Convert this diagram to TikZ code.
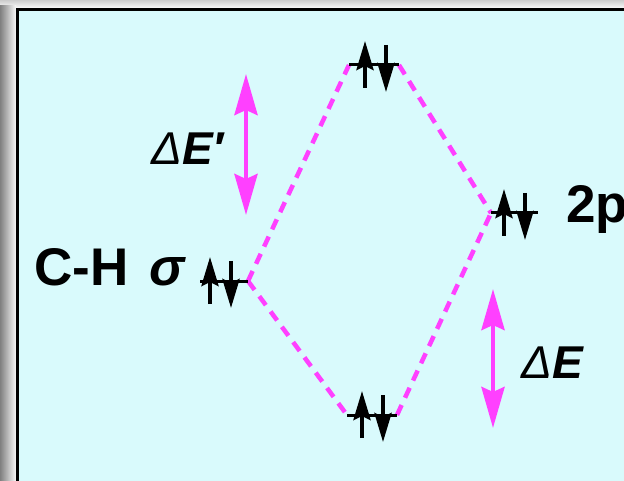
\documentclass[tikz,border=0pt]{standalone}
\usepackage{fontspec}
\setmainfont{Liberation Sans}
\usetikzlibrary{arrows.meta,calc}

\definecolor{panel}{RGB}{217,250,252}
\definecolor{pinkline}{RGB}{255,64,255}

\tikzset{
  level/.style={line width=3pt},
  spin/.style={line width=4pt,-{Stealth[length=29pt,width=17pt,inset=4pt]}},
  link/.style={pinkline,line width=4.5pt,dash pattern=on 11pt off 8pt},
  gap/.style={pinkline,line width=4.5pt,
    {Stealth[length=41pt,width=23pt,inset=5pt]}-{Stealth[length=41pt,width=23pt,inset=5pt]}},
  lbl/.style={inner sep=0pt,anchor=base west,font=\fontsize{53}{56}\selectfont\bfseries},
  dlbl/.style={inner sep=0pt,anchor=base west,font=\fontsize{46}{50}\selectfont}
}
% electron pair around a level centre
\newcommand{\epair}[1]{%
  \draw[spin] ($(#1)+(-10,23)$) -- ++(0,-47);
  \draw[spin] ($(#1)+(11,-20)$) -- ++(0,47);}

\begin{document}
\begin{tikzpicture}[x=1pt,y=-1pt]
  \useasboundingbox (0,0) rectangle (624,481);
  % window frame
  \fill[white] (0,0) rectangle (624,481);
  \shade[top color=gray!40,bottom color=white] (0,0) rectangle (624,9);
  \shade[left color=gray,right color=white!95!gray] (0,6) rectangle (16,481);
  \draw[line width=2.5pt,fill=panel] (17.5,9.5) rectangle (660,520);

  % level ends
  \coordinate (sigL) at (200,281); \coordinate (sigR) at (248,281);
  \coordinate (topL) at (349,65);  \coordinate (topR) at (399,65);
  \coordinate (botL) at (347,415); \coordinate (botR) at (397,415);
  \coordinate (pL) at (491,213);   \coordinate (pR) at (538,213);
  % pair centres
  \coordinate (sig) at (220,281);
  \coordinate (top) at (375,65);
  \coordinate (bot) at (372,415);
  \coordinate (p) at (514,213);

  % correlation lines
  \draw[link] (sigR) -- (topL);
  \draw[link] (topR) -- (pL);
  \draw[link] (sigR) -- (botL);
  \draw[link] (botR) -- (pL);

  % levels
  \draw[level] (sigL) -- (sigR);
  \draw[level] (topL) -- (topR);
  \draw[level] (botL) -- (botR);
  \draw[level] (pL) -- (pR);

  \epair{sig}
  \epair{top}
  \epair{bot}
  \epair{p}

  % energy gaps
  \coordinate (gapA1) at (246,74);  \coordinate (gapA2) at (246,215);
  \coordinate (gapB1) at (493,289); \coordinate (gapB2) at (493,428);
  \draw[gap] (gapA1) -- (gapA2);
  \draw[gap] (gapB1) -- (gapB2);

  % labels
  \node[lbl] (chs) at (34,285) {C-H\hspace{0.4em}\textit{σ}};
  \node[lbl] (twop) at (566,223) {2p};
  \node[dlbl] (dEp) at (151,165) {\textit{Δ}\textbf{\textit{E′}}};
  \node[dlbl] (dE) at (521,378) {\textit{Δ}\textbf{\textit{E}}};
\end{tikzpicture}
\end{document}
